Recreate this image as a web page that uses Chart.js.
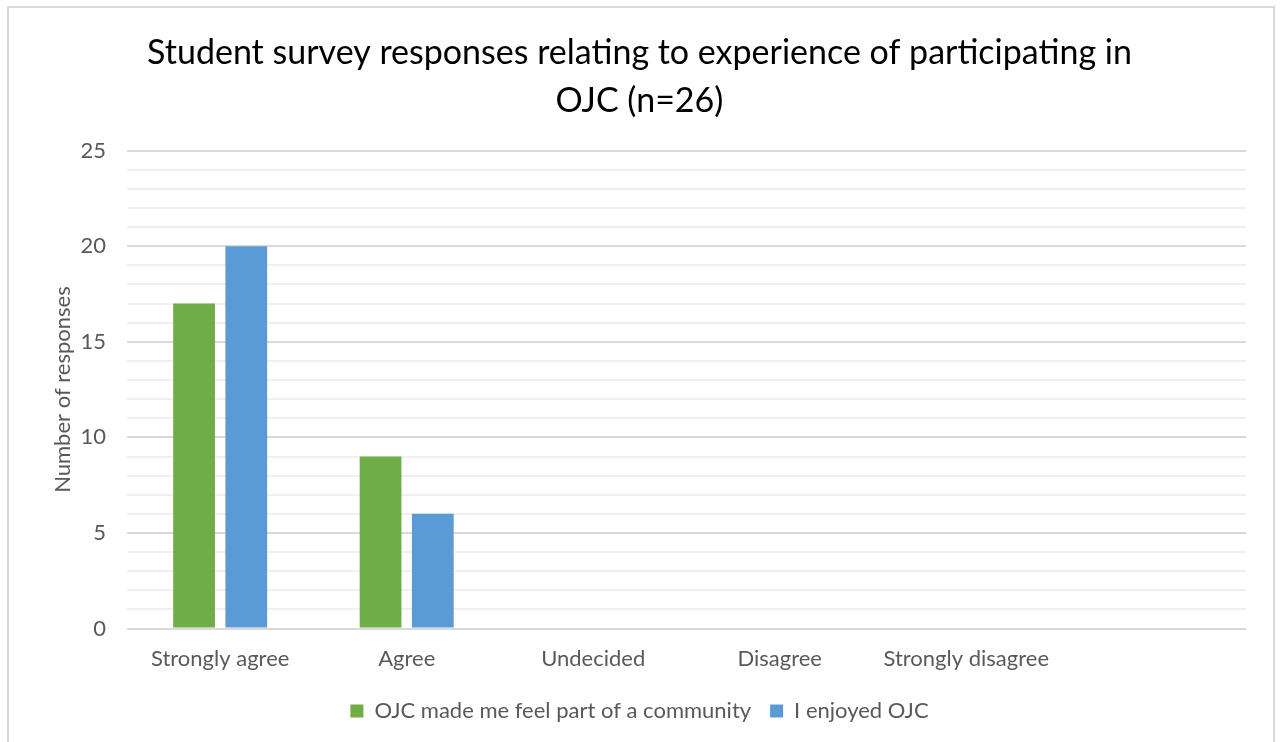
<!DOCTYPE html>
<html>
<head>
<meta charset="utf-8">
<script src="https://cdn.jsdelivr.net/npm/chart.js@4.4.1/dist/chart.umd.min.js"></script>
<style>
  body { margin: 0; background: #fff; }
  #frame {
    position: absolute; left: 7px; top: 6px;
    width: 1268px; height: 750px;
    border: 2px solid #d9d9d9; box-sizing: border-box;
  }
  #wrap { position: absolute; left: 0; top: 0; width: 1264px; height: 736px; }
</style>
</head>
<body>
<div id="frame"><div id="wrap"><canvas id="myChart"></canvas></div></div>
<script>
// categories (last slot is empty, as in the original)
const categories = ["Strongly agree", "Agree", "Undecided", "Disagree", "Strongly disagree", ""];
const communityValues = [17, 9, 0, 0, 0, 0];
const enjoyedValues = [20, 6, 0, 0, 0, 0];
const seriesNames = ["OJC made me feel part of a community", "I enjoyed OJC"];
const titleLines = ["Student survey responses relating to experience of participating in", "OJC (n=26)"];

const fontName = "Lato, 'Open Sans', sans-serif";

const ctx = document.getElementById("myChart");
new Chart(ctx, {
  type: "bar",
  data: {
    labels: categories,
    datasets: [
      {
        label: seriesNames[0],
        data: communityValues,
        backgroundColor: "#70ad47",
        barPercentage: 0.8,
        categoryPercentage: 0.56,
      },
      {
        label: seriesNames[1],
        data: enjoyedValues,
        backgroundColor: "#5b9bd5",
        barPercentage: 0.8,
        categoryPercentage: 0.56,
      },
    ],
  },
  options: {
    responsive: true,
    maintainAspectRatio: false,
    animation: false,
    layout: { padding: { left: 24, right: 27, top: 8, bottom: 12 } },
    plugins: {
      title: {
        display: true,
        text: titleLines,
        color: "#000",
        font: { family: fontName, size: 34, weight: "normal", lineHeight: 1.42 },
        padding: { top: 13, bottom: 25 },
      },
      legend: {
        position: "bottom",
        labels: {
          color: "#595959",
          font: { family: fontName, size: 22 },
          boxWidth: 13,
          boxHeight: 13,
          padding: 19,
        },
      },
      tooltip: { enabled: false },
    },
    scales: {
      x: {
        grid: { display: false },
        border: { display: false },
        ticks: {
          color: "#595959",
          font: { family: fontName, size: 22 },
          padding: 9,
          maxRotation: 0,
        },
      },
      y: {
        min: 0,
        max: 25,
        border: { display: false },
        grid: {
          color: function (c) {
            return c.tick && c.tick.value % 5 === 0 ? "#d9d9d9" : "#f0f0f0";
          },
          lineWidth: 2,
          drawTicks: false,
        },
        ticks: {
          stepSize: 1,
          autoSkip: false,
          color: "#595959",
          font: { family: fontName, size: 22 },
          padding: 21,
          callback: function (v) {
            return v % 5 === 0 ? v : "";
          },
        },
        title: {
          display: true,
          text: "Number of responses",
          color: "#595959",
          font: { family: fontName, size: 22 },
          padding: { top: 17, bottom: -17 },
        },
      },
    },
  },
});
</script>
</body>
</html>
